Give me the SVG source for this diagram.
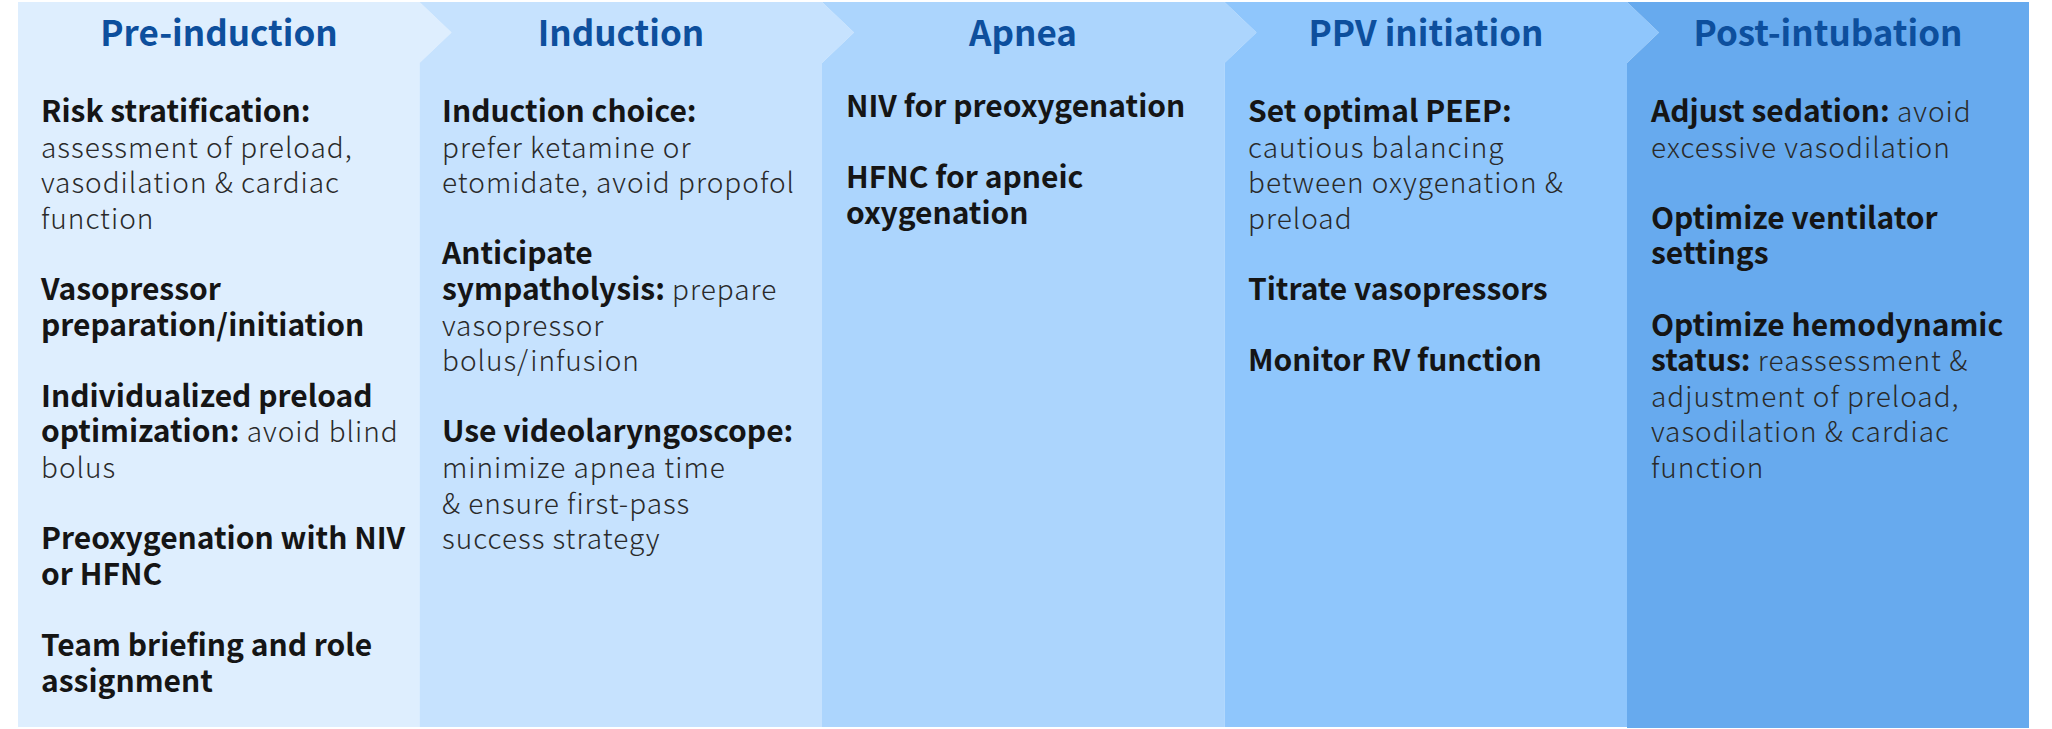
<svg xmlns="http://www.w3.org/2000/svg" width="2052" height="729" viewBox="0 0 2052 729">
<style>
.t{font-family:"Noto Sans CJK JP","Noto Sans",sans-serif;font-size:35px;font-weight:700;fill:#0d4f9d;text-anchor:middle}
.b{font-family:"Noto Sans CJK JP","Noto Sans",sans-serif;font-size:30px;font-weight:700;fill:#151515}
.r{font-family:"Noto Sans CJK JP","Noto Sans",sans-serif;font-size:28px;font-weight:300;fill:#2a2a2a;letter-spacing:1px}
</style>
<rect width="2052" height="729" fill="#ffffff"/>
<g id="col-pre-induction">
<polygon points="18,2 419.5,2 451.5,32.5 419.5,63 419.5,727 18,727" fill="#deeefe"/>
<text class="t" x="219" y="46">Pre-induction</text>
<text x="41" class="b" y="122">Risk stratification:</text>
<text x="41" class="r" y="157.6">assessment of preload,</text>
<text x="41" class="r" y="193.2">vasodilation &amp; cardiac</text>
<text x="41" class="r" y="228.8">function</text>
<text x="41" class="b" y="300">Vasopressor</text>
<text x="41" class="b" y="335.6">preparation/initiation</text>
<text x="41" class="b" y="406.8">Individualized preload</text>
<text x="41" y="442.4"><tspan class="b">optimization:</tspan><tspan class="r"> avoid blind</tspan></text>
<text x="41" class="r" y="478">bolus</text>
<text x="41" class="b" y="549.2">Preoxygenation with NIV</text>
<text x="41" class="b" y="584.8">or HFNC</text>
<text x="41" class="b" y="656">Team briefing and role</text>
<text x="41" class="b" y="691.6">assignment</text>
</g>
<g id="col-induction">
<polygon points="451.5,32.5 419.5,2 822,2 854,32.5 822,63 822,727 419.5,727 419.5,63" fill="#c6e2fe"/>
<text class="t" x="621" y="46">Induction</text>
<text x="442" class="b" y="122">Induction choice:</text>
<text x="442" class="r" y="157.6">prefer ketamine or</text>
<text x="442" class="r" y="193.2">etomidate, avoid propofol</text>
<text x="442" class="b" y="264.4">Anticipate</text>
<text x="442" y="300"><tspan class="b">sympatholysis:</tspan><tspan class="r"> prepare</tspan></text>
<text x="442" class="r" y="335.6">vasopressor</text>
<text x="442" class="r" y="371.2">bolus/infusion</text>
<text x="442" class="b" y="442.4">Use videolaryngoscope:</text>
<text x="442" class="r" y="478">minimize apnea time</text>
<text x="442" class="r" y="513.6">&amp; ensure first-pass</text>
<text x="442" class="r" y="549.2">success strategy</text>
</g>
<g id="col-apnea">
<polygon points="854,32.5 822,2 1224.5,2 1256.5,32.5 1224.5,63 1224.5,727 822,727 822,63" fill="#acd5fd"/>
<text class="t" x="1023" y="46">Apnea</text>
<text x="846" class="b" y="117">NIV for preoxygenation</text>
<text x="846" class="b" y="188.2">HFNC for apneic</text>
<text x="846" class="b" y="223.8">oxygenation</text>
</g>
<g id="col-ppv-initiation">
<polygon points="1256.5,32.5 1224.5,2 1627,2 1659,32.5 1627,63 1627,727 1224.5,727 1224.5,63" fill="#8fc6fc"/>
<text class="t" x="1426" y="46">PPV initiation</text>
<text x="1248" class="b" y="122">Set optimal PEEP:</text>
<text x="1248" class="r" y="157.6">cautious balancing</text>
<text x="1248" class="r" y="193.2">between oxygenation &amp;</text>
<text x="1248" class="r" y="228.8">preload</text>
<text x="1248" class="b" y="300">Titrate vasopressors</text>
<text x="1248" class="b" y="371.2">Monitor RV function</text>
</g>
<g id="col-post-intubation">
<polygon points="1659,32.5 1627,2 2029,2 2029,728 1627,728 1627,63" fill="#67aaee"/>
<text class="t" x="1828" y="46">Post-intubation</text>
<text x="1651" y="122"><tspan class="b">Adjust sedation:</tspan><tspan class="r"> avoid</tspan></text>
<text x="1651" class="r" y="157.6">excessive vasodilation</text>
<text x="1651" class="b" y="228.8">Optimize ventilator</text>
<text x="1651" class="b" y="264.4">settings</text>
<text x="1651" class="b" y="335.6">Optimize hemodynamic</text>
<text x="1651" y="371.2"><tspan class="b">status:</tspan><tspan class="r"> reassessment &amp;</tspan></text>
<text x="1651" class="r" y="406.8">adjustment of preload,</text>
<text x="1651" class="r" y="442.4">vasodilation &amp; cardiac</text>
<text x="1651" class="r" y="478">function</text>
</g>
<g id="connectors"></g>
</svg>
